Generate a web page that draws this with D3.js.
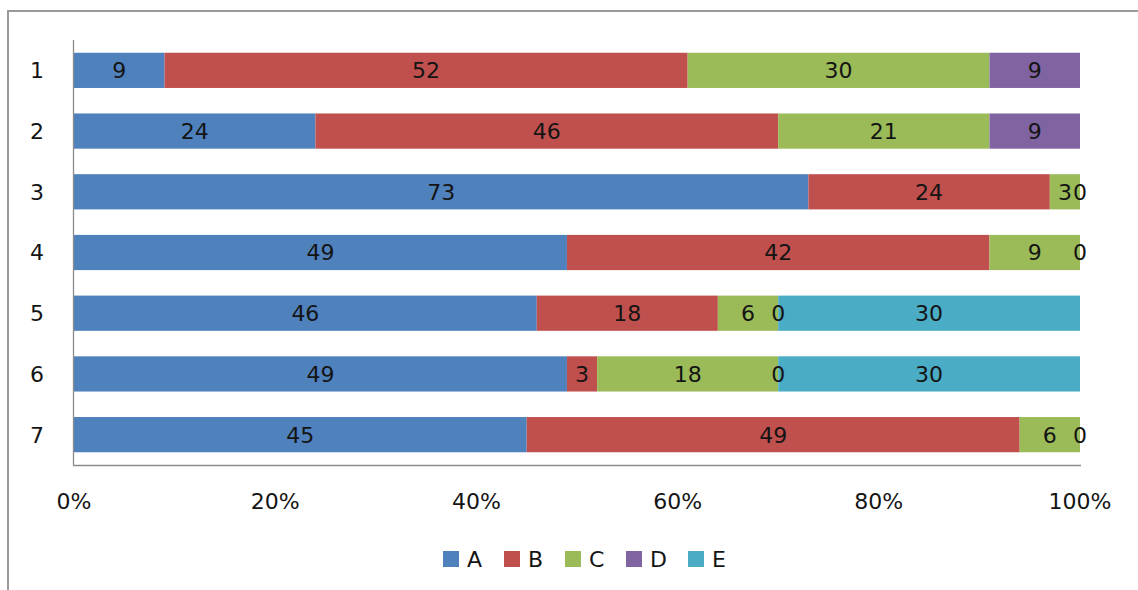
<!DOCTYPE html>
<html><head><meta charset="utf-8">
<script src="https://cdn.jsdelivr.net/npm/d3@7"></script>
<style>body{margin:0;background:#fff}svg{display:block}</style>
</head><body>
<svg id="c" width="1138" height="590"></svg>
<script>
const categories = ["1","2","3","4","5","6","7"];
const seriesNames = ["A","B","C","D","E"];
const seriesA = [9,24,73,49,46,49,45];
const seriesB = [52,46,24,42,18,3,49];
const seriesC = [30,21,3,9,6,18,6];
const seriesD = [9,9,0,0,0,0,0];
const seriesE = [null,null,null,null,30,30,null];
const colors = ["#4F81BD","#C0504D","#9BBB59","#8064A2","#4BACC6"];
const tickValues = [0,0.2,0.4,0.6,0.8,1];

const seriesVals = [seriesA,seriesB,seriesC,seriesD,seriesE];
const rows = categories.map((c,i)=>{
  const o={cat:c};
  seriesNames.forEach((s,j)=>{o[s]=seriesVals[j][i]==null?0:seriesVals[j][i];o[s+"_has"]=seriesVals[j][i]!=null;});
  return o;
});

const svg = d3.select("#c");
const font = "'DejaVu Sans', Verdana, sans-serif";
const fs = 22;
// outer frame
svg.append("path").attr("d","M8,590 L8,11 L1138,11").attr("fill","none").attr("stroke","#9a9a9a").attr("stroke-width",2);

const L=74, R=1080, T=40, B=465;
const x = d3.scaleLinear().domain([0,1]).range([L,R]);
const y = d3.scaleBand().domain(categories).range([T,B]).paddingInner(0.42).paddingOuter(0.21);

const stack = d3.stack().keys(seriesNames).offset(d3.stackOffsetExpand);
const stacked = stack(rows);

const g = svg.append("g");
stacked.forEach((layer,j)=>{
  g.selectAll(null).data(layer).enter().append("rect")
    .attr("x",d=>x(d[0])).attr("width",d=>Math.max(0,x(d[1])-x(d[0])))
    .attr("y",d=>y(d.data.cat)).attr("height",y.bandwidth())
    .attr("fill",colors[j]);
});
stacked.forEach((layer,j)=>{
  const s = seriesNames[j];
  g.selectAll(null).data(layer.filter(d=>d.data[s+"_has"])).enter().append("text")
    .attr("x",d=>(x(d[0])+x(d[1]))/2).attr("y",d=>y(d.data.cat)+y.bandwidth()/2)
    .attr("dy","0.36em").attr("text-anchor","middle")
    .attr("font-family",font).attr("font-size",fs).attr("fill","#141414")
    .text(d=>d.data[s]);
});

// axes lines
svg.append("line").attr("x1",L-0.5).attr("x2",L-0.5).attr("y1",T).attr("y2",B).attr("stroke","#8c8c8c").attr("stroke-width",1.3);
svg.append("line").attr("x1",L-1).attr("x2",R+1).attr("y1",B+0.5).attr("y2",B+0.5).attr("stroke","#8c8c8c").attr("stroke-width",1.3);

// x tick labels
svg.selectAll(null).data(tickValues).enter().append("text")
  .attr("x",d=>x(d)).attr("y",509).attr("text-anchor","middle")
  .attr("font-family",font).attr("font-size",fs).attr("fill","#141414")
  .text(d=>d3.format(".0%")(d));
// y labels
svg.selectAll(null).data(categories).enter().append("text")
  .attr("x",37).attr("y",d=>y(d)+y.bandwidth()/2).attr("dy","0.36em").attr("text-anchor","middle")
  .attr("font-family",font).attr("font-size",fs).attr("fill","#141414")
  .text(d=>d);

// legend
const legX = [443,504,565,626,688];
const leg = svg.append("g");
seriesNames.forEach((s,j)=>{
  leg.append("rect").attr("x",legX[j]).attr("y",551).attr("width",16).attr("height",16).attr("fill",colors[j]);
  leg.append("text").attr("x",legX[j]+24).attr("y",567)
    .attr("font-family",font).attr("font-size",fs).attr("fill","#141414").text(s);
});
</script>
</body></html>
